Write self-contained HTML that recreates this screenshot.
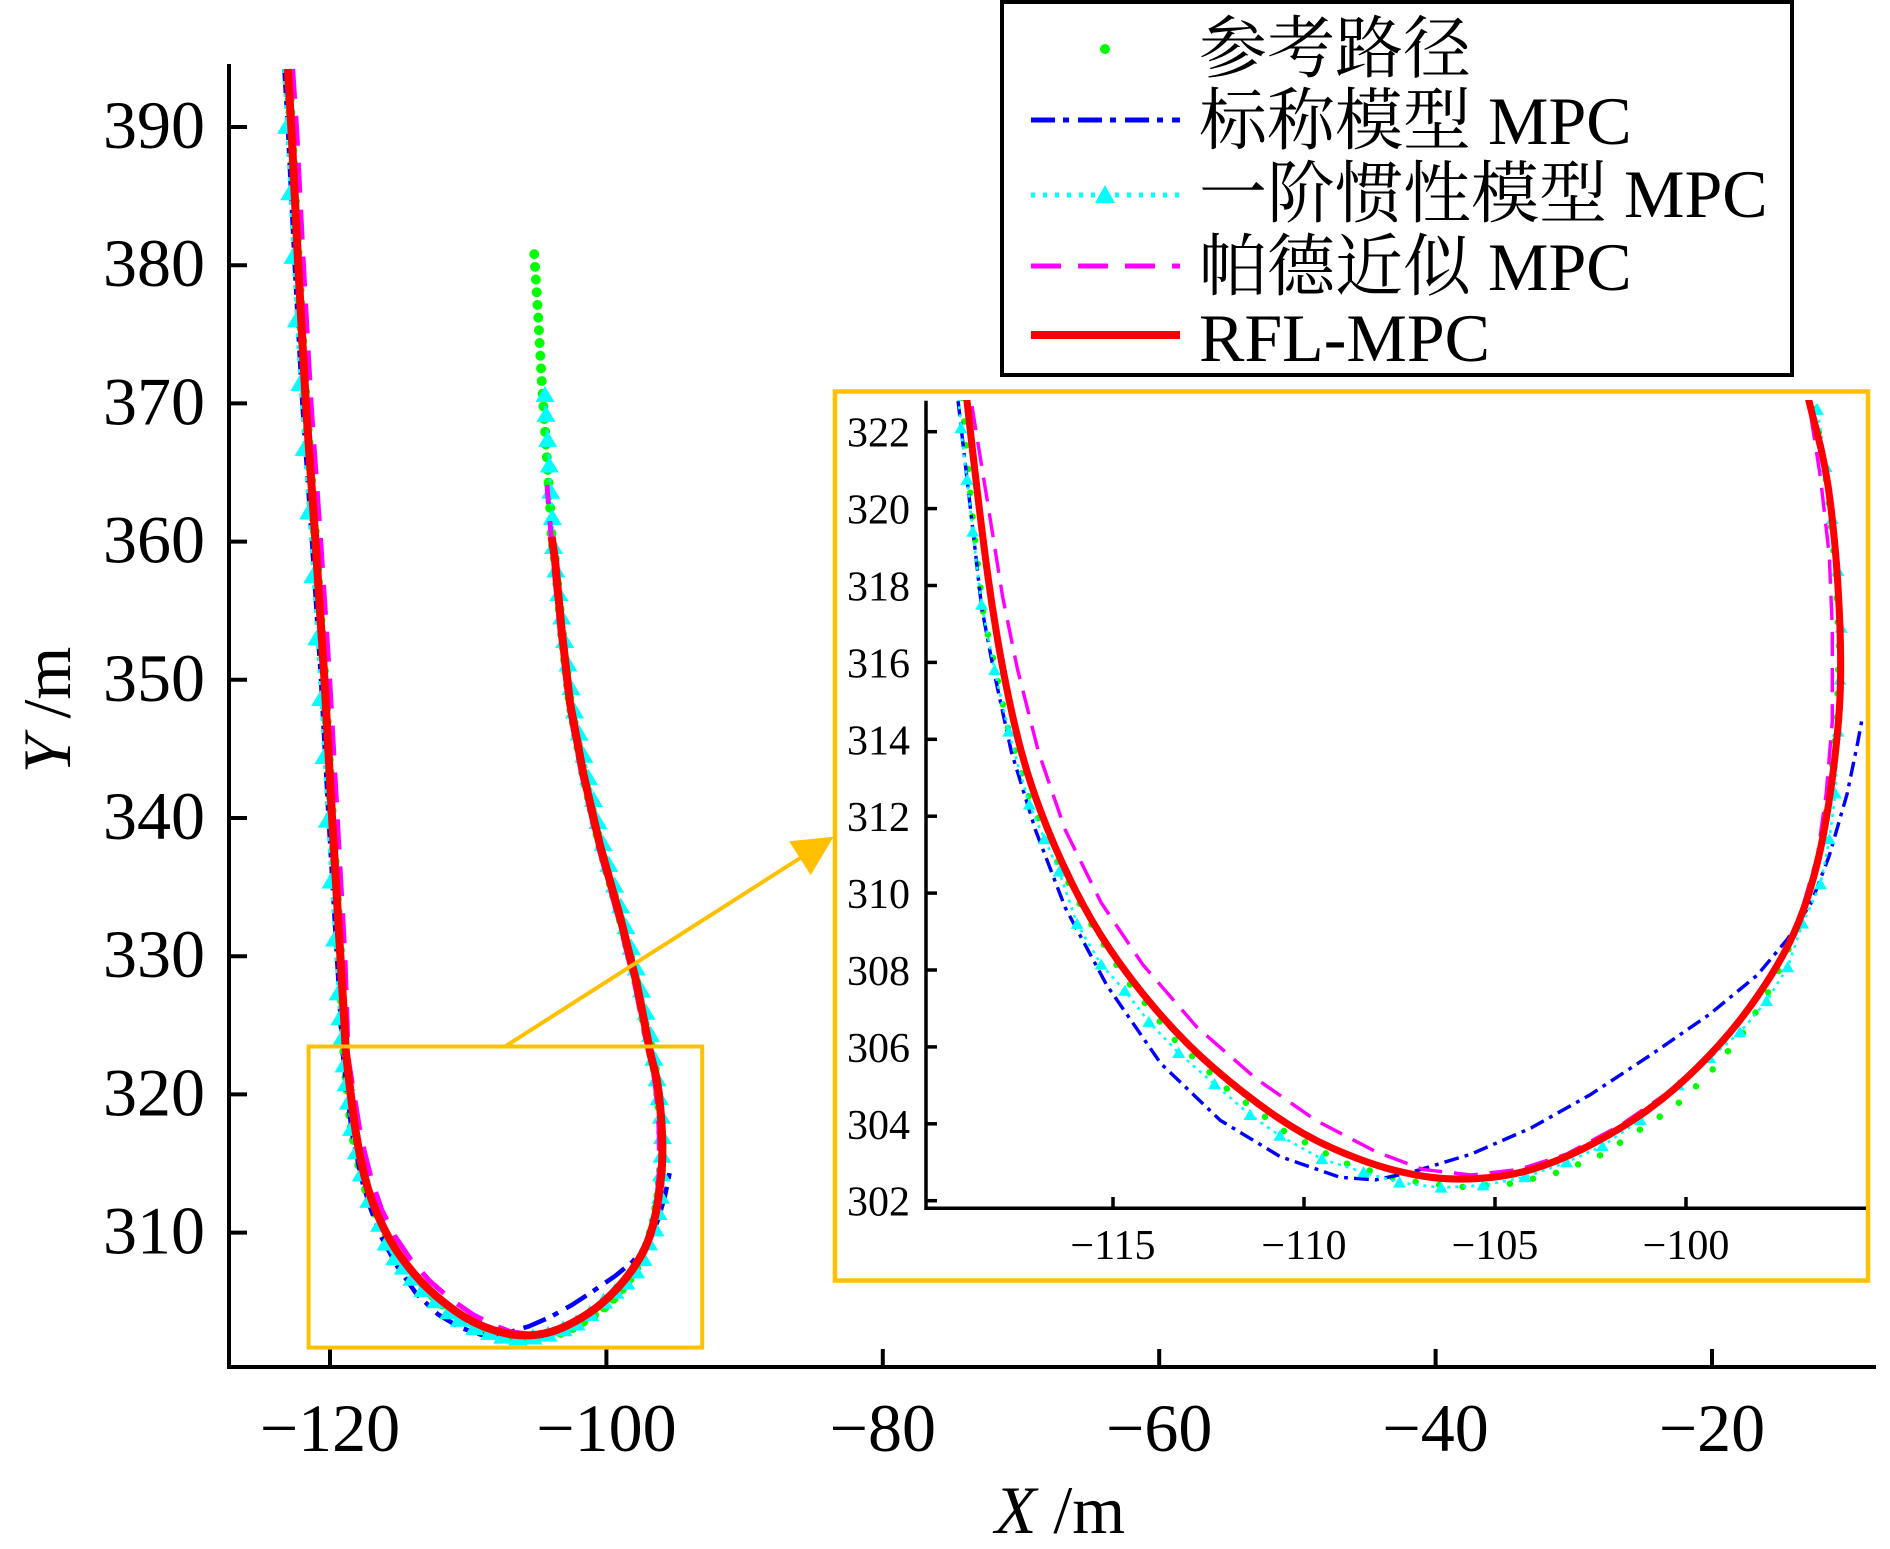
<!DOCTYPE html>
<html>
<head>
<meta charset="utf-8">
<style>
  html, body { margin: 0; padding: 0; background: #ffffff; }
  svg { display: block; }
</style>
</head>
<body>
<svg width="1890" height="1549" viewBox="0 0 1890 1549" xmlns="http://www.w3.org/2000/svg">
  <defs>
    <clipPath id="cm"><rect x="231" y="60" width="1650" height="1305"/></clipPath>
    <clipPath id="ci"><rect x="928" y="400" width="938" height="806"/></clipPath>
    <marker id="tm" markerUnits="userSpaceOnUse" markerWidth="2" markerHeight="2" refX="0" refY="0" orient="0" overflow="visible" style="overflow:visible">
      <path d="M-0.69,-0.5 L0.69,-0.5 L0,0.66 Z" fill="#00FFFF"/>
    </marker>
    <marker id="ti" markerUnits="userSpaceOnUse" markerWidth="1" markerHeight="1" refX="0" refY="0" orient="0" overflow="visible" style="overflow:visible">
      <path d="M-0.17,-0.13 L0.17,-0.13 L0,0.16 Z" fill="#00FFFF"/>
    </marker>
  </defs>

  <rect x="0" y="0" width="1890" height="1549" fill="#ffffff"/>

  <!-- ============ MAIN PLOT CURVES ============ -->
  <g clip-path="url(#cm)">
    <g transform="matrix(13.82 0 0 -13.82 1988.4 5516.8)" fill="none" stroke-linejoin="round">
      <!-- reference (green dots) -->
      <polyline stroke="#00FF00" stroke-width="0.72" stroke-linecap="round" stroke-dasharray="0 0.92"
        points="-105.22,380.8 -104.93,376.23 -104.68,371.64 -104.44,368.07 -104.32,366.26 -104.2,364.45 -104.08,362.65 -103.96,360.35 -103.72,358.67 -103.23,353.5 -102.63,348.3 -101.67,343.2 -100.46,338 -99,332.8 -97.8,328 -97.05,324.2 -96.8,323.5 -96.6,322.5 -96.3,320.5 -96.1,318.5 -96,316.5 -96.05,314.5 -96.25,312.6 -96.6,310.6 -97.1,309 -97.8,307.5 -98.55,306.3 -99.4,305.3 -100.31,304.43 -101.25,303.82 -102.2,303.2 -103.3,302.75 -104.5,302.45 -106,302.35 -107.5,302.55 -109,303 -110.5,303.8 -112,304.9 -113.4,306.2 -114.7,307.8 -115.7,309.4 -116.5,310.9 -117.2,312.5 -117.75,314.3 -118.4,317.3 -118.7,320 -119,323.5 -119.25,330 -119.85,340 -120.4,350 -121.05,360 -121.75,370 -122.3,380 -122.8,390 -123.05,394.2"/>
      <!-- nominal MPC (blue dash-dot) -->
      <polyline stroke="#0000FF" stroke-width="0.33" stroke-dasharray="1.74 0.58 0.43 0.65"
        points="-123.3,394.2 -123.05,390 -122.55,380 -122,370 -121.3,360 -120.65,350 -120.1,340 -119.5,330 -119.2,325 -119.06,322.84 -118.67,319.46 -118.44,317.44 -118.13,315.82 -117.66,313.67 -117.03,311.64 -116.25,309.62 -115.16,307.6 -113.75,305.57 -112.19,304.09 -110.63,303.15 -109.06,302.61 -108.13,302.54 -107.19,302.74 -105.63,303.21 -104.06,303.89 -102.5,304.76 -100.94,305.78 -99.38,306.85 -98.13,307.87 -97.34,308.81 -96.72,309.75 -96.25,310.97 -95.78,312.59 -95.5,313.94 -95.39,314.54"/>
      <!-- first-order inertia MPC (cyan dotted + triangles) -->
      <polyline stroke="#00FFFF" stroke-width="0.2" stroke-dasharray="0.29 0.58"
        points="-123.35,394.2 -123.15,390 -122.91,385.2 -122.68,380.6 -122.43,376 -122.18,371.4 -121.87,366.7 -121.55,362.1 -121.24,357.5 -120.95,353 -120.67,348.6 -120.44,344.4 -120.19,339.8 -119.92,335.4 -119.67,331.2 -119.41,327.3 -119.28,325.5 -119.17,324 -118.98,322.09 -118.82,320.75 -118.67,319.4 -118.44,317.5 -118.1,315.8 -117.73,314.2 -117.19,312.3 -116.41,310.56 -115.94,309.2 -115.31,308.14 -114.69,307.46 -114.06,306.65 -113.28,305.84 -112.34,305.03 -111.41,304.23 -110.63,303.69 -109.53,303.08 -108.44,302.74 -107.5,302.47 -106.41,302.34 -105.31,302.4 -104.22,302.61 -103.13,303 -102.19,303.42 -101.2,304.1 -100.2,305 -99.38,305.71 -98.59,306.38 -97.89,307.19 -97.34,308.07 -96.95,309.21 -96.48,310.23 -96.25,311.4 -96.09,312.59 -96.02,314.2 -95.97,315.55 -95.94,316.9 -96.02,318.38 -96.17,319.73 -96.33,321.08 -96.56,322.57 -96.8,324.3 -97.13,325.9 -97.45,327.5 -97.83,329.1 -98.2,330.6 -98.58,332.1 -98.97,333.6 -99.4,335.1 -99.82,336.6 -100.23,338.1 -100.61,339.7 -100.93,341.3 -101.3,342.9 -101.63,344.5 -101.97,346.1 -102.3,347.7 -102.56,349.4 -102.78,351.1 -103.02,352.8 -103.23,354.5 -103.44,356.2 -103.65,357.9 -103.82,359.6 -103.91,361.7 -104.03,363.6 -104.13,365.5 -104.25,367.35 -104.37,369.16 -104.44,370.6"/>
      <polyline stroke="none" marker-start="url(#tm)" marker-mid="url(#tm)" marker-end="url(#tm)"
        points="-123.15,390 -122.91,385.2 -122.68,380.6 -122.43,376 -122.18,371.4 -121.87,366.7 -121.55,362.1 -121.24,357.5 -120.95,353 -120.67,348.6 -120.44,344.4 -120.19,339.8 -119.92,335.4 -119.67,331.2 -119.41,327.3 -119.28,325.5 -119.17,324 -118.98,322.09 -118.82,320.75 -118.67,319.4 -118.44,317.5 -118.1,315.8 -117.73,314.2 -117.19,312.3 -116.41,310.56 -115.94,309.2 -115.31,308.14 -114.69,307.46 -114.06,306.65 -113.28,305.84 -112.34,305.03 -111.41,304.23 -110.63,303.69 -109.53,303.08 -108.44,302.74 -107.5,302.47 -106.41,302.34 -105.31,302.4 -104.22,302.61 -103.13,303 -102.19,303.42 -101.2,304.1 -100.2,305 -99.38,305.71 -98.59,306.38 -97.89,307.19 -97.34,308.07 -96.95,309.21 -96.48,310.23 -96.25,311.4 -96.09,312.59 -96.02,314.2 -95.97,315.55 -95.94,316.9 -96.02,318.38 -96.17,319.73 -96.33,321.08 -96.56,322.57 -96.8,324.3 -97.13,325.9 -97.45,327.5 -97.83,329.1 -98.2,330.6 -98.58,332.1 -98.97,333.6 -99.4,335.1 -99.82,336.6 -100.23,338.1 -100.61,339.7 -100.93,341.3 -101.3,342.9 -101.63,344.5 -101.97,346.1 -102.3,347.7 -102.56,349.4 -102.78,351.1 -103.02,352.8 -103.23,354.5 -103.44,356.2 -103.65,357.9 -103.82,359.6 -103.91,361.7 -104.03,363.6 -104.13,365.5 -104.25,367.35 -104.37,369.16 -104.44,370.6"/>
      <!-- Pade MPC (magenta dashed) -->
      <polyline stroke="#FF00FF" stroke-width="0.36" stroke-dasharray="2.17 1.23"
        points="-122.7,394.2 -122.42,390 -121.92,380 -121.37,370 -120.67,360 -120.02,350 -119.47,340 -118.92,330 -118.75,325 -118.72,322.84 -118.28,320.14 -117.89,317.71 -117.5,315.82 -116.95,313.67 -116.25,311.64 -115.31,309.75 -114.22,308.14 -112.81,306.52 -111.25,305.17 -109.69,304.09 -108.13,303.28 -106.88,302.81 -105.63,302.67 -104.38,302.81 -103.13,303.21 -101.72,303.96 -100.16,305.03 -98.91,306.25 -97.81,307.73 -97.03,309.35 -96.56,310.97 -96.33,312.59 -96.17,314.47 -96.17,316.9 -96.25,318.79 -96.48,320.81 -96.8,322.84 -97.2,324.2 -97.95,328 -99.15,332.8 -100.6,338 -101.8,343.2 -102.75,348.3 -103.35,353.5 -103.85,358.67 -104.05,361 -104.3,364.1"/>
      <!-- RFL-MPC (red solid) -->
      <path stroke="#FF0000" stroke-width="0.58" stroke-linecap="butt"
        d="M-123.05,394.2 L-122.8,390 L-122.3,380 L-121.75,370 L-121.05,360 L-120.4,350 L-119.85,340 L-119.25,330 L-118.95,325 L-118.865,323.22 Q-118.83,322.84 -118.635,321.15 Q-118.44,319.46 -118.285,318.315 Q-118.13,317.17 -117.93,316.085 Q-117.73,315 -117.5,314.065 Q-117.27,313.13 -116.915,312.185 Q-116.56,311.24 -116.095,310.295 Q-115.63,309.35 -115.08,308.54 Q-114.53,307.73 -113.83,306.92 Q-113.13,306.11 -112.345,305.435 Q-111.56,304.76 -110.78,304.225 Q-110,303.69 -109.22,303.35 Q-108.44,303.01 -107.815,302.84 Q-107.19,302.67 -106.64,302.605 Q-106.09,302.54 -105.465,302.575 Q-104.84,302.61 -104.295,302.745 Q-103.75,302.88 -103.125,303.15 Q-102.5,303.42 -101.72,303.89 Q-100.94,304.36 -100.315,304.9 Q-99.69,305.44 -99.14,306.045 Q-98.59,306.65 -98.125,307.325 Q-97.66,308 -97.345,308.605 Q-97.03,309.21 -96.795,309.955 Q-96.56,310.7 -96.405,311.51 Q-96.25,312.32 -96.135,313.26 Q-96.02,314.2 -95.98,314.875 Q-95.94,315.55 -95.955,316.36 Q-95.97,317.17 -96.03,318.115 Q-96.09,319.06 -96.21,320.07 Q-96.33,321.08 -96.565,321.96 Q-96.8,322.84 -96.875,323.22 L-97.05,324.2 L-97.8,328 L-99,332.8 L-100.46,338 L-101.67,343.2 L-102.63,348.3 L-103.23,353.5 L-103.72,358.67 L-103.96,360.35"/>
    </g>
  </g>

  <!-- ============ MAIN AXES ============ -->
  <g stroke="#000" stroke-width="4" fill="none">
    <path d="M229,64 V1367 H1876" stroke-linejoin="miter"/>
    <line x1="229" y1="127" x2="247" y2="127"/>
    <line x1="229" y1="265.2" x2="247" y2="265.2"/>
    <line x1="229" y1="403.4" x2="247" y2="403.4"/>
    <line x1="229" y1="541.6" x2="247" y2="541.6"/>
    <line x1="229" y1="679.8" x2="247" y2="679.8"/>
    <line x1="229" y1="818" x2="247" y2="818"/>
    <line x1="229" y1="956.2" x2="247" y2="956.2"/>
    <line x1="229" y1="1094.4" x2="247" y2="1094.4"/>
    <line x1="229" y1="1232.6" x2="247" y2="1232.6"/>
    <line x1="330" y1="1367" x2="330" y2="1349"/>
    <line x1="606.4" y1="1367" x2="606.4" y2="1349"/>
    <line x1="882.8" y1="1367" x2="882.8" y2="1349"/>
    <line x1="1159.2" y1="1367" x2="1159.2" y2="1349"/>
    <line x1="1435.6" y1="1367" x2="1435.6" y2="1349"/>
    <line x1="1712" y1="1367" x2="1712" y2="1349"/>
  </g>
  <g font-family="'Liberation Serif','DejaVu Serif',serif" font-size="68" fill="#000" text-anchor="end">
    <text x="205" y="148">390</text>
    <text x="205" y="286.2">380</text>
    <text x="205" y="424.4">370</text>
    <text x="205" y="562.6">360</text>
    <text x="205" y="700.8">350</text>
    <text x="205" y="839">340</text>
    <text x="205" y="977.2">330</text>
    <text x="205" y="1115.4">320</text>
    <text x="205" y="1253.6">310</text>
  </g>
  <g font-family="'Liberation Serif','DejaVu Serif',serif" font-size="68" fill="#000" text-anchor="middle">
    <text x="330" y="1451">−120</text>
    <text x="606.4" y="1451">−100</text>
    <text x="882.8" y="1451">−80</text>
    <text x="1159.2" y="1451">−60</text>
    <text x="1435.6" y="1451">−40</text>
    <text x="1712" y="1451">−20</text>
  </g>
  <!-- axis labels -->
  <text x="1060" y="1533" font-family="'Liberation Serif','DejaVu Serif',serif" font-size="68" text-anchor="middle" fill="#000"><tspan font-style="italic">X</tspan> /m</text>
  <text transform="translate(70,710) rotate(-90)" font-family="'Liberation Serif','DejaVu Serif',serif" font-size="68" text-anchor="middle" fill="#000"><tspan font-style="italic">Y</tspan> /m</text>

  <!-- ============ ZOOM RECT + ARROW ============ -->
  <rect x="308.6" y="1046.5" width="393.6" height="301.1" fill="none" stroke="#FFC000" stroke-width="4"/>
  <line x1="505" y1="1046.5" x2="801" y2="857.5" stroke="#FFC000" stroke-width="4"/>
  <polygon points="833.6,836.7 810.7,875.1 789.1,841.3" fill="#FFC000"/>

  <!-- ============ INSET ============ -->
  <rect x="835" y="391.5" width="1033" height="889" fill="#ffffff" stroke="#FFC000" stroke-width="4.5"/>
  <g clip-path="url(#ci)">
    <g transform="matrix(38.2 0 0 -38.45 5506 12812.6)" fill="none" stroke-linejoin="round">
      <polyline stroke="#00FF00" stroke-width="0.17" stroke-linecap="round" stroke-dasharray="0 0.62"
        points="-119,323.5 -118.7,320 -118.4,317.3 -117.75,314.3 -117.2,312.5 -116.5,310.9 -115.7,309.4 -114.7,307.8 -113.4,306.2 -112,304.9 -110.5,303.8 -109,303 -107.5,302.55 -106,302.35 -104.5,302.45 -103.3,302.75 -102.2,303.2 -101.25,303.82 -100.31,304.43 -99.4,305.3 -98.55,306.3 -97.8,307.5 -97.1,309 -96.6,310.6 -96.25,312.6 -96.05,314.5 -96,316.5 -96.1,318.5 -96.3,320.5 -96.6,322.5 -96.8,323.5"/>
      <polyline stroke="#0000FF" stroke-width="0.09" stroke-dasharray="0.39 0.16 0.1 0.16"
        points="-119.15,323.6 -119.06,322.84 -118.67,319.46 -118.44,317.44 -118.13,315.82 -117.66,313.67 -117.03,311.64 -116.25,309.62 -115.16,307.6 -113.75,305.57 -112.19,304.09 -110.63,303.15 -109.06,302.61 -108.13,302.54 -107.19,302.74 -105.63,303.21 -104.06,303.89 -102.5,304.76 -100.94,305.78 -99.38,306.85 -98.13,307.87 -97.34,308.81 -96.72,309.75 -96.25,310.97 -95.78,312.59 -95.5,313.94 -95.39,314.54"/>
      <polyline stroke="#00FFFF" stroke-width="0.07" stroke-dasharray="0.08 0.13"
        points="-119.1,323.5 -118.98,322.09 -118.82,320.75 -118.67,319.4 -118.44,317.5 -118.1,315.8 -117.73,314.2 -117.19,312.3 -116.41,310.56 -115.94,309.2 -115.31,308.14 -114.69,307.46 -114.06,306.65 -113.28,305.84 -112.34,305.03 -111.41,304.23 -110.63,303.69 -109.53,303.08 -108.44,302.74 -107.5,302.47 -106.41,302.34 -105.31,302.4 -104.22,302.61 -103.13,303 -102.19,303.42 -101.2,304.1 -100.2,305 -99.38,305.71 -98.59,306.38 -97.89,307.19 -97.34,308.07 -96.95,309.21 -96.48,310.23 -96.25,311.4 -96.09,312.59 -96.02,314.2 -95.97,315.55 -95.94,316.9 -96.02,318.38 -96.17,319.73 -96.33,321.08 -96.56,322.57 -96.8,324.3"/>
      <polyline stroke="none" marker-start="url(#ti)" marker-mid="url(#ti)" marker-end="url(#ti)"
        points="-118.98,322.09 -118.82,320.75 -118.67,319.4 -118.44,317.5 -118.1,315.8 -117.73,314.2 -117.19,312.3 -116.8,311.4 -116.41,310.56 -115.94,309.2 -115.31,308.14 -114.69,307.46 -114.06,306.65 -113.28,305.84 -112.34,305.03 -111.41,304.23 -110.63,303.69 -109.53,303.08 -108.44,302.74 -107.5,302.47 -106.41,302.34 -105.31,302.4 -104.22,302.61 -103.13,303 -102.19,303.42 -101.2,304.1 -100.2,305 -99.38,305.71 -98.59,306.38 -97.89,307.19 -97.34,308.07 -96.95,309.21 -96.48,310.23 -96.25,311.4 -96.09,312.59 -96.02,314.2 -95.97,315.55 -95.94,316.9 -96.02,318.38 -96.17,319.73 -96.33,321.08 -96.56,322.57"/>
      <polyline stroke="#FF00FF" stroke-width="0.09" stroke-dasharray="0.63 0.31"
        points="-118.75,323.6 -118.72,322.84 -118.28,320.14 -117.89,317.71 -117.5,315.82 -116.95,313.67 -116.25,311.64 -115.31,309.75 -114.22,308.14 -112.81,306.52 -111.25,305.17 -109.69,304.09 -108.13,303.28 -106.88,302.81 -105.63,302.67 -104.38,302.81 -103.13,303.21 -101.72,303.96 -100.16,305.03 -98.91,306.25 -97.81,307.73 -97.03,309.35 -96.56,310.97 -96.33,312.59 -96.17,314.47 -96.17,316.9 -96.25,318.79 -96.48,320.81 -96.8,322.84 -96.95,323.6"/>
      <path stroke="#FF0000" stroke-width="0.185" stroke-linecap="butt"
        d="M-118.9,323.6 L-118.865,323.22 Q-118.83,322.84 -118.635,321.15 Q-118.44,319.46 -118.285,318.315 Q-118.13,317.17 -117.93,316.085 Q-117.73,315 -117.5,314.065 Q-117.27,313.13 -116.915,312.185 Q-116.56,311.24 -116.095,310.295 Q-115.63,309.35 -115.08,308.54 Q-114.53,307.73 -113.83,306.92 Q-113.13,306.11 -112.345,305.435 Q-111.56,304.76 -110.78,304.225 Q-110,303.69 -109.22,303.35 Q-108.44,303.01 -107.815,302.84 Q-107.19,302.67 -106.64,302.605 Q-106.09,302.54 -105.465,302.575 Q-104.84,302.61 -104.295,302.745 Q-103.75,302.88 -103.125,303.15 Q-102.5,303.42 -101.72,303.89 Q-100.94,304.36 -100.315,304.9 Q-99.69,305.44 -99.14,306.045 Q-98.59,306.65 -98.125,307.325 Q-97.66,308 -97.345,308.605 Q-97.03,309.21 -96.795,309.955 Q-96.56,310.7 -96.405,311.51 Q-96.25,312.32 -96.135,313.26 Q-96.02,314.2 -95.98,314.875 Q-95.94,315.55 -95.955,316.36 Q-95.97,317.17 -96.03,318.115 Q-96.09,319.06 -96.21,320.07 Q-96.33,321.08 -96.565,321.96 Q-96.8,322.84 -96.875,323.22 L-96.95,323.6"/>
    </g>
  </g>
  <!-- inset axes -->
  <g stroke="#000" stroke-width="3.5" fill="none">
    <path d="M926,400.7 V1208.3 H1866"/>
    <line x1="926" y1="1200.7" x2="937" y2="1200.7"/>
    <line x1="926" y1="1123.8" x2="937" y2="1123.8"/>
    <line x1="926" y1="1046.9" x2="937" y2="1046.9"/>
    <line x1="926" y1="970" x2="937" y2="970"/>
    <line x1="926" y1="893.1" x2="937" y2="893.1"/>
    <line x1="926" y1="816.2" x2="937" y2="816.2"/>
    <line x1="926" y1="739.3" x2="937" y2="739.3"/>
    <line x1="926" y1="662.4" x2="937" y2="662.4"/>
    <line x1="926" y1="585.5" x2="937" y2="585.5"/>
    <line x1="926" y1="508.6" x2="937" y2="508.6"/>
    <line x1="926" y1="431.7" x2="937" y2="431.7"/>
    <line x1="1113" y1="1208.3" x2="1113" y2="1197"/>
    <line x1="1304" y1="1208.3" x2="1304" y2="1197"/>
    <line x1="1495" y1="1208.3" x2="1495" y2="1197"/>
    <line x1="1686" y1="1208.3" x2="1686" y2="1197"/>
  </g>
  <g font-family="'Liberation Serif','DejaVu Serif',serif" font-size="42" fill="#000" text-anchor="end">
    <text x="910" y="1215.7">302</text>
    <text x="910" y="1138.8">304</text>
    <text x="910" y="1061.9">306</text>
    <text x="910" y="985">308</text>
    <text x="910" y="908.1">310</text>
    <text x="910" y="831.2">312</text>
    <text x="910" y="754.3">314</text>
    <text x="910" y="677.4">316</text>
    <text x="910" y="600.5">318</text>
    <text x="910" y="523.6">320</text>
    <text x="910" y="446.7">322</text>
  </g>
  <g font-family="'Liberation Serif','DejaVu Serif',serif" font-size="42" fill="#000" text-anchor="middle">
    <text x="1113" y="1259">−115</text>
    <text x="1304" y="1259">−110</text>
    <text x="1495" y="1259">−105</text>
    <text x="1686" y="1259">−100</text>
  </g>

  <!-- ============ LEGEND ============ -->
  <rect x="1002" y="2" width="790" height="373" fill="#ffffff" stroke="#000" stroke-width="4"/>
  <circle cx="1105" cy="49" r="5" fill="#00FF00"/>
  <line x1="1031" y1="120" x2="1180" y2="120" stroke="#0000FF" stroke-width="5" stroke-dasharray="24 8 6 9"/>
  <line x1="1031" y1="195" x2="1180" y2="195" stroke="#00FFFF" stroke-width="5" stroke-dasharray="4 8"/>
  <polygon points="1095,203 1115,203 1105,185" fill="#00FFFF"/>
  <line x1="1031" y1="266" x2="1180" y2="266" stroke="#FF00FF" stroke-width="5" stroke-dasharray="30 17"/>
  <line x1="1031" y1="335" x2="1180" y2="335" stroke="#FF0000" stroke-width="8"/>
  <g font-family="'Liberation Serif','Noto Serif CJK SC','Noto Sans CJK SC',serif" font-size="68" fill="#000">
    <text x="1199" y="72">参考路径</text>
    <text x="1199" y="144">标称模型 MPC</text>
    <text x="1199" y="217">一阶惯性模型 MPC</text>
    <text x="1199" y="290">帕德近似 MPC</text>
    <text x="1199" y="361">RFL-MPC</text>
  </g>
</svg>
</body>
</html>
